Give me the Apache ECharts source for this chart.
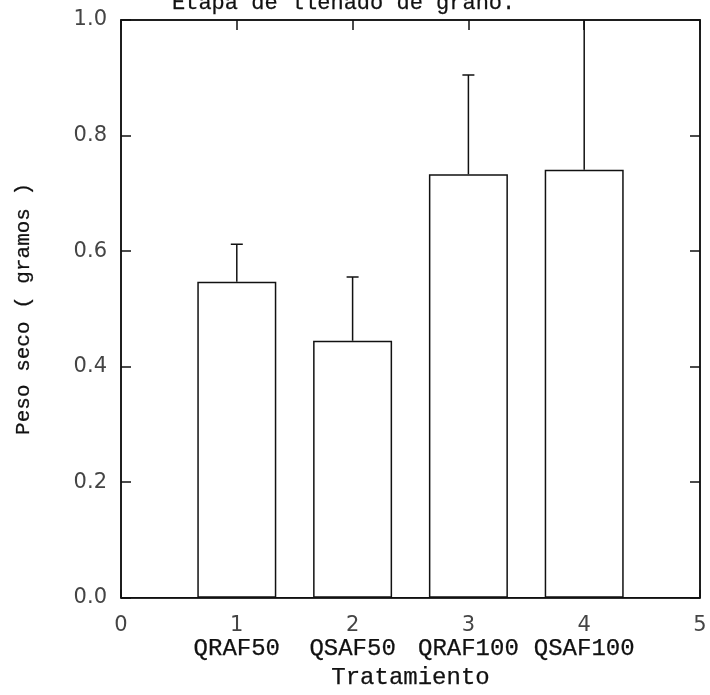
<!DOCTYPE html>
<html>
<head>
<meta charset="utf-8">
<script src="https://cdn.jsdelivr.net/npm/echarts@6/dist/echarts.min.js"></script>
<style>
  html, body { margin: 0; padding: 0; background: #fff; }
  #chart { width: 710px; height: 695px; }
</style>
</head>
<body>
<div id="chart"></div>
<script>
// datos
const categories = ['QRAF50', 'QSAF50', 'QRAF100', 'QSAF100'];
const positions = [1, 2, 3, 4];
const means = [0.547, 0.445, 0.733, 0.741];
const upper = [0.612, 0.555, 0.905, 1.02];

const chart = echarts.init(document.getElementById('chart'));

const barData = positions.map((p, i) => [p, means[i]]);
const errData = positions.map((p, i) => [p, means[i], upper[i]]);

const mono = '"Liberation Mono", "DejaVu Sans Mono", monospace';
const sans = '"DejaVu Sans", "Liberation Sans", sans-serif';
const ink = '#111';
// trazo un poco más grueso para imitar la tipografía de máquina de escribir
const heavy = { textBorderColor: ink, textBorderWidth: 0.25 };

const option = {
  animation: false,
  backgroundColor: '#fff',
  title: {
    text: 'Etapa de llenado de grano.',
    left: 167,
    top: -13,
    textStyle: { fontFamily: mono, fontSize: 22, fontWeight: 'normal', color: ink, ...heavy }
  },
  grid: {
    left: 121, right: 10, top: 20, bottom: 95,
    show: true, borderColor: ink, borderWidth: 1.5
  },
  xAxis: [
    {
      type: 'value', min: 0, max: 5, interval: 1,
      name: 'Tratamiento',
      nameLocation: 'middle',
      nameGap: 65,
      nameTextStyle: { fontFamily: mono, fontSize: 24, color: ink, ...heavy },
      axisLine: { show: true, onZero: false, lineStyle: { color: ink, width: 1.5 } },
      axisTick: { show: true, inside: true, length: 8, lineStyle: { color: ink, width: 1.5 } },
      splitLine: { show: false },
      axisLabel: {
        margin: 16,
        formatter: v => {
          const i = positions.indexOf(v);
          return i >= 0 ? `{n|${v}}\n{c|${categories[i]}}` : `{n|${v}}`;
        },
        rich: {
          n: { fontFamily: sans, fontSize: 21, color: '#444', lineHeight: 24 },
          c: { fontFamily: mono, fontSize: 24, color: ink, lineHeight: 22, ...heavy }
        }
      }
    },
    {
      type: 'value', min: 0, max: 5, interval: 1, position: 'top',
      axisLine: { show: true, onZero: false, lineStyle: { color: ink, width: 1.5 } },
      axisTick: { show: true, inside: true, length: 10, lineStyle: { color: ink, width: 1.5 } },
      axisLabel: { show: false },
      splitLine: { show: false }
    }
  ],
  yAxis: [
    {
      type: 'value', min: 0, max: 1, interval: 0.2,
      name: 'Peso seco ( gramos )',
      nameLocation: 'middle',
      nameGap: 87,
      nameTextStyle: { fontFamily: mono, fontSize: 21, color: ink, ...heavy },
      axisLine: { show: true, onZero: false, lineStyle: { color: ink, width: 1.5 } },
      axisTick: { show: true, inside: true, length: 10, lineStyle: { color: ink, width: 1.5 } },
      splitLine: { show: false },
      axisLabel: {
        margin: 14,
        formatter: v => v.toFixed(1),
        fontFamily: sans, fontSize: 21, color: '#444'
      }
    },
    {
      type: 'value', min: 0, max: 1, interval: 0.2, position: 'right',
      axisLine: { show: true, onZero: false, lineStyle: { color: ink, width: 1.5 } },
      axisTick: { show: true, inside: true, length: 10, lineStyle: { color: ink, width: 1.5 } },
      axisLabel: { show: false },
      splitLine: { show: false }
    }
  ],
  series: [
    {
      type: 'bar',
      data: barData,
      barWidth: 79,
      itemStyle: { color: '#fff', borderColor: ink, borderWidth: 1.5 }
    },
    {
      type: 'custom',
      clip: true,
      data: errData,
      renderItem: (params, api) => {
        const x = api.value(0);
        const p0 = api.coord([x, api.value(1)]);
        const p1 = api.coord([x, api.value(2)]);
        const style = { stroke: ink, lineWidth: 1.5 };
        return {
          type: 'group',
          children: [
            { type: 'line', shape: { x1: p0[0], y1: p0[1], x2: p1[0], y2: p1[1] }, style },
            { type: 'line', shape: { x1: p1[0] - 6, y1: p1[1], x2: p1[0] + 6, y2: p1[1] }, style }
          ]
        };
      },
      z: 3
    }
  ]
};

chart.setOption(option);
</script>
</body>
</html>
